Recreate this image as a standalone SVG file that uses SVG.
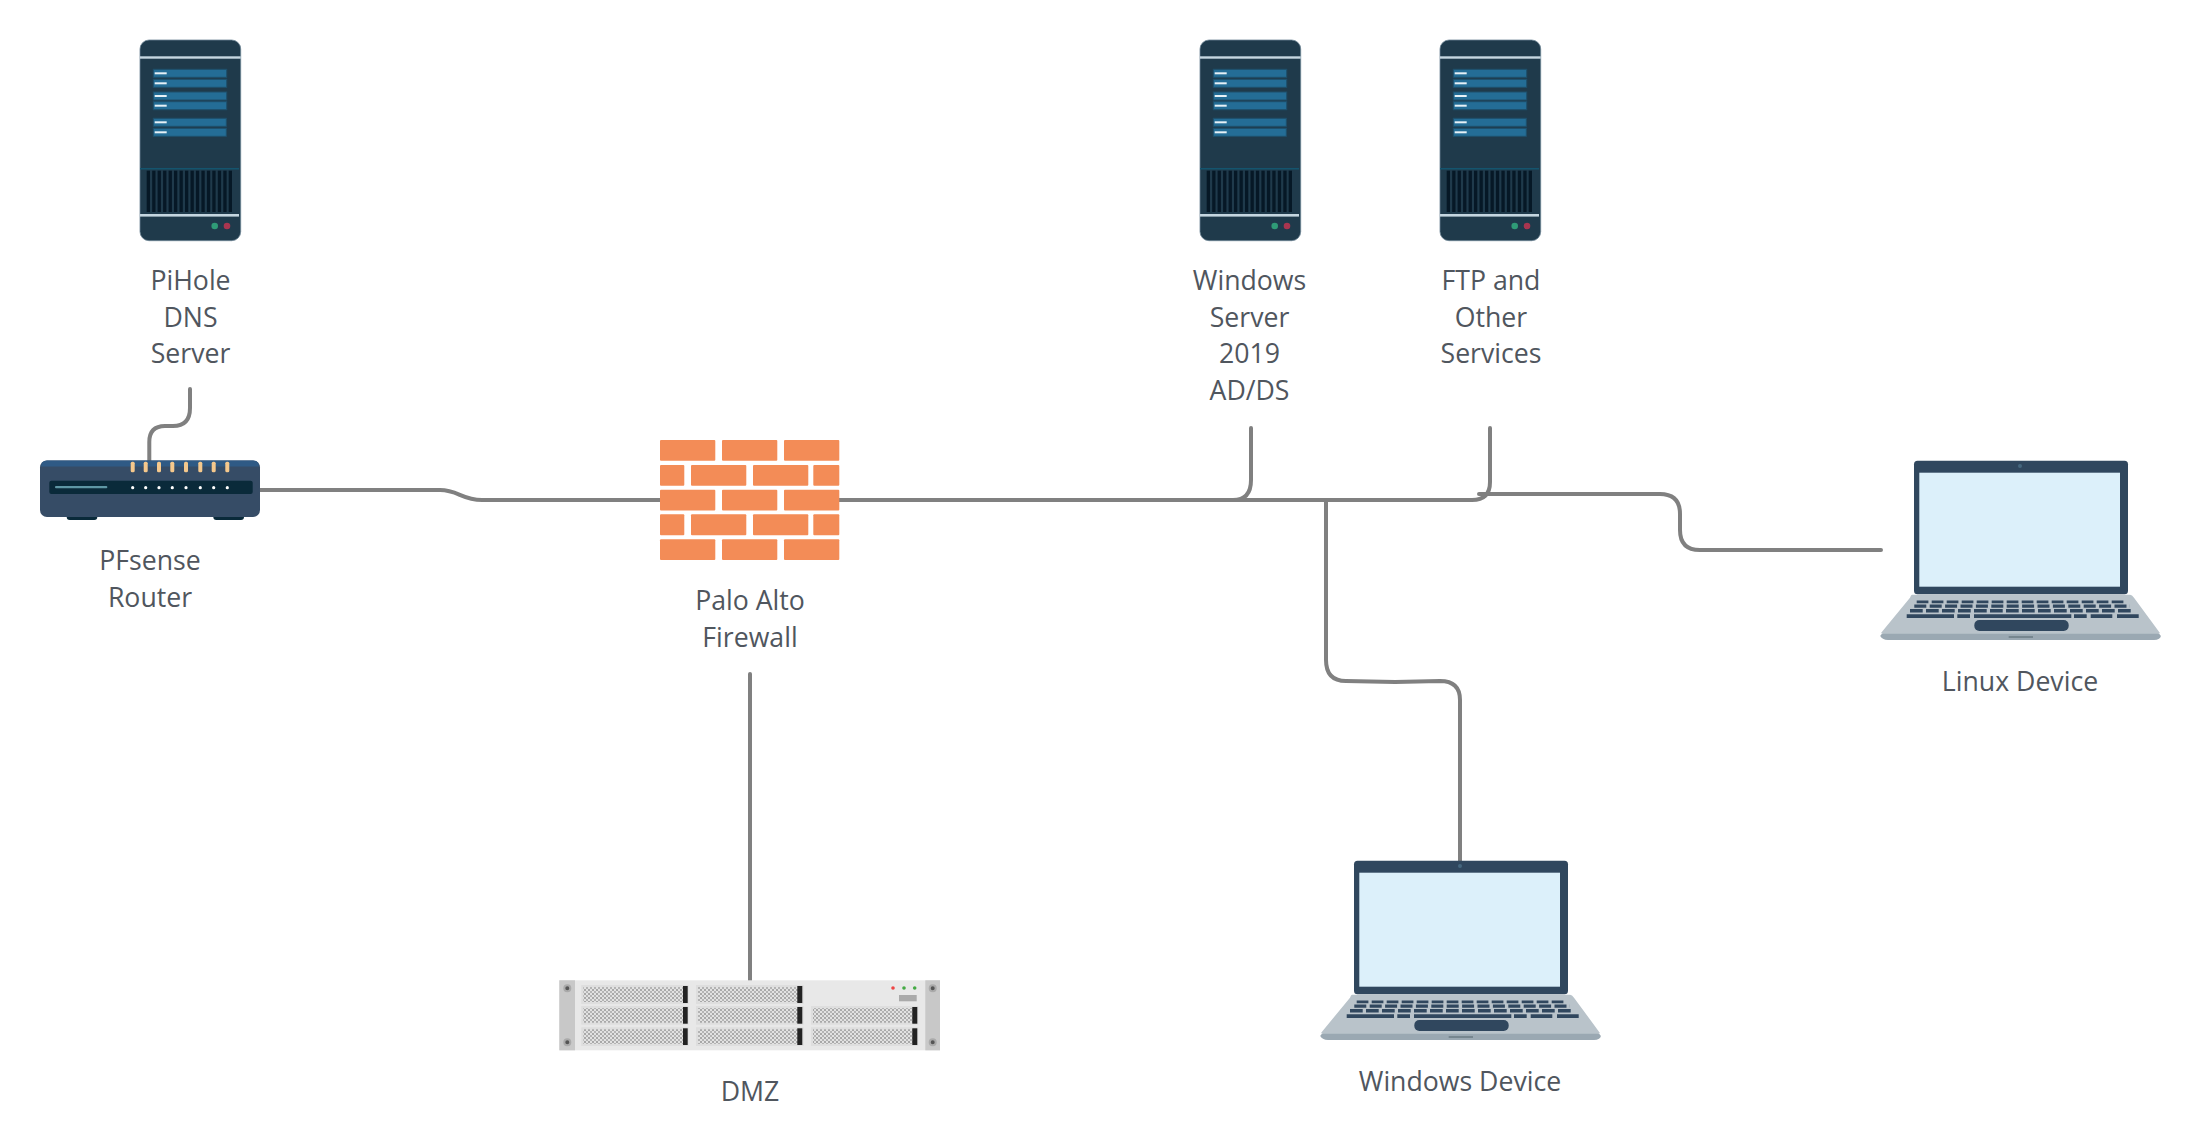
<svg xmlns="http://www.w3.org/2000/svg" width="2200" height="1146" viewBox="0 0 2200 1146">
<style>
.lbl{font-family:"Open Sans","Noto Sans",sans-serif;font-size:26.67px;fill:#50565e;text-anchor:middle}
.wire{fill:none;stroke:#808080;stroke-width:4;stroke-linecap:round}
.brick{fill:#f38c57}
.row{fill:#246d96;stroke:#1f4f6b;stroke-width:1}
.tab{fill:#e6f1f7}
.bar{fill:#061826}
.port{fill:#f5c88c}
.led{fill:#fff}
.key{fill:none;stroke:#30475e}
.bay{fill:url(#dots);stroke:#dedede;stroke-width:2}
.handle{fill:#222}
.screw{fill:#555;stroke:#aaa;stroke-width:2}
</style>
<defs>
<pattern id="dots" width="4" height="4" patternUnits="userSpaceOnUse">
<rect width="4" height="4" fill="#e2e2e2"/><rect width="2" height="2" fill="#a8a8a8"/><rect x="2" y="2" width="2" height="2" fill="#b4b4b4"/>
</pattern>
<g id="server">
<rect x="0" y="0" width="100.7" height="200.7" rx="9" fill="#1f3a4b" stroke="#6c8494" stroke-width=".8"/>
<rect x="0" y="16.3" width="100.7" height="2.4" fill="#c5d6e0"/>
<rect class="row" x="13.3" y="29.3" width="73.4" height="8"/><rect class="row" x="13.3" y="39.3" width="73.4" height="8"/>
<rect class="row" x="13.3" y="52" width="73.4" height="8"/><rect class="row" x="13.3" y="61.7" width="73.4" height="8"/>
<rect class="row" x="13.3" y="78.3" width="73" height="8"/><rect class="row" x="13.3" y="88.3" width="73" height="8"/>
<rect class="tab" x="14.7" y="32.3" width="12" height="2"/><rect class="tab" x="14.7" y="42.3" width="12" height="2"/>
<rect class="tab" x="14.7" y="55" width="12" height="2"/><rect class="tab" x="14.7" y="64.7" width="12" height="2"/>
<rect class="tab" x="14.7" y="81.3" width="12" height="2"/><rect class="tab" x="14.7" y="91.3" width="12" height="2"/>
<rect x="0" y="128" width="99" height="1.5" fill="#14546e"/>
<g class="bar">
<rect x="6.7" y="130.7" width="3.3" height="41.3"/><rect x="12.2" y="130.7" width="3.3" height="41.3"/><rect x="17.6" y="130.7" width="3.3" height="41.3"/><rect x="23.1" y="130.7" width="3.3" height="41.3"/>
<rect x="28.6" y="130.7" width="3.3" height="41.3"/><rect x="34" y="130.7" width="3.3" height="41.3"/><rect x="39.5" y="130.7" width="3.3" height="41.3"/><rect x="45" y="130.7" width="3.3" height="41.3"/>
<rect x="50.5" y="130.7" width="3.3" height="41.3"/><rect x="55.9" y="130.7" width="3.3" height="41.3"/><rect x="61.4" y="130.7" width="3.3" height="41.3"/><rect x="66.9" y="130.7" width="3.3" height="41.3"/>
<rect x="72.3" y="130.7" width="3.3" height="41.3"/><rect x="77.8" y="130.7" width="3.3" height="41.3"/><rect x="83.3" y="130.7" width="3.3" height="41.3"/><rect x="88.7" y="130.7" width="3.3" height="41.3"/>
</g>
<rect x="0" y="174" width="99" height="2.6" fill="#c5d6e0"/>
<circle cx="74.7" cy="186" r="3.3" fill="#2f9b77"/><circle cx="87" cy="186" r="3.3" fill="#a9354f"/>
</g>
<g id="laptop">
<path d="M-30.700 172 L-33 174 Q-35 176 -31 178 Q-29 179.300 -26 179.300 H240 Q243 179.300 245 178 Q248 176 246 174 L244 172 Z" fill="#9aa8b2"/>
<path d="M-2 134 H216 Q218 134 220 137 L245 171 Q247 173 244 173 H-31 Q-34 173 -32 171 L-4 137 Q-3 134 -2 134Z" fill="#b9c3ca"/>
<rect x="94.700" y="175.300" width="24.300" height="2" fill="#76868f"/>
<rect x="0" y="0" width="214" height="133.500" rx="3.500" fill="#30475e"/>
<rect x="5.300" y="12" width="200.700" height="114" fill="#dcf0fa"/>
<circle cx="106" cy="5.400" r="2" fill="#46677f"/>
<path class="key" stroke-width="2.800" stroke-dasharray="11.700 3.300" d="M2.700 141.200 H212.700"/>
<path class="key" stroke-width="3.100" stroke-dasharray="12 3.400" d="M0.300 145.400 H216"/>
<path class="key" stroke-width="3.400" stroke-dasharray="12.700 3.300" d="M-4 150 H220"/>
<path class="key" stroke-width="3.600" d="M-7.300 155.400 H40 M43.300 155.400 H56 M60 155.400 H157.300 M160 155.400 H172.700 M176.700 155.400 H198.300 M203 155.400 H224.700"/>
<rect x="60.300" y="159.300" width="94.400" height="11" rx="5" fill="#30475e"/>
</g>
</defs>
<g id="connectors" class="wire">
<path d="M149.300 461 V442 Q149.300 426 165 426 H173 Q190 426 190 408 V389"/>
<path d="M258 490 H440 C458 490 462 500 482 500 H662"/>
<path d="M838 500 H1233 Q1251 500 1251 480 V428"/>
<path d="M1200 500 H1472 Q1490 500 1490 482 V428"/>
<path d="M1326 500 V660 Q1326 681 1346 681 L1395 682 L1440 681 Q1460 681 1460 700 V861"/>
<path d="M1479 494 H1660 Q1680 494 1680 514 V530 Q1680 550 1700 550 H1881"/>
<path d="M750 674 V981"/>
</g>
<g id="pihole"><use href="#server" x="140" y="40"/><text class="lbl" x="190.500" y="289.500">PiHole</text><text class="lbl" x="190.500" y="326.500">DNS</text><text class="lbl" x="190.500" y="362.500">Server</text></g>
<g id="winserver"><use href="#server" x="1200" y="40"/><text class="lbl" x="1249.500" y="289.500">Windows</text><text class="lbl" x="1249.500" y="326.500">Server</text><text class="lbl" x="1249.500" y="362.500">2019</text><text class="lbl" x="1249.500" y="399.500">AD/DS</text></g>
<g id="ftp"><use href="#server" x="1440" y="40"/><text class="lbl" x="1491" y="289.500">FTP and</text><text class="lbl" x="1491" y="326.500">Other</text><text class="lbl" x="1491" y="362.500">Services</text></g>
<g id="router">
<rect x="66.700" y="512" width="30.600" height="8" rx="3" fill="#0a2a3a"/><rect x="213.300" y="512" width="30.700" height="8" rx="3" fill="#0a2a3a"/>
<rect x="40" y="460.500" width="220" height="56.500" rx="7" fill="#364c66"/>
<path d="M41 466.500 Q41 460.500 47 460.500 H253 Q259 460.500 259 466.500Z" fill="#2f5a85"/>
<rect x="49.300" y="480.700" width="203.400" height="13.300" rx="2" fill="#0a2a3a"/>
<rect x="55" y="486" width="52.300" height="2.300" rx="1" fill="#5f97a5"/>
<g class="port"><rect x="130.700" y="461.700" width="4" height="10.600" rx="1.500"/><rect x="143.700" y="461.700" width="4" height="10.600" rx="1.500"/><rect x="157" y="461.700" width="4" height="10.600" rx="1.500"/><rect x="170.300" y="461.700" width="4" height="10.600" rx="1.500"/><rect x="184" y="461.700" width="4" height="10.600" rx="1.500"/><rect x="198.300" y="461.700" width="4" height="10.600" rx="1.500"/><rect x="211.700" y="461.700" width="4" height="10.600" rx="1.500"/><rect x="225.300" y="461.700" width="4" height="10.600" rx="1.500"/></g>
<g class="led"><circle cx="132.700" cy="487.700" r="1.600"/><circle cx="145.700" cy="487.700" r="1.600"/><circle cx="159" cy="487.700" r="1.600"/><circle cx="172.300" cy="487.700" r="1.600"/><circle cx="186" cy="487.700" r="1.600"/><circle cx="200.300" cy="487.700" r="1.600"/><circle cx="213.700" cy="487.700" r="1.600"/><circle cx="227.300" cy="487.700" r="1.600"/></g>
<text class="lbl" x="150" y="570.300">PFsense</text><text class="lbl" x="150" y="607.300">Router</text>
</g>
<g id="firewall">
<g class="brick">
<rect x="660" y="440" width="55.300" height="20.700" rx="1"/><rect x="722" y="440" width="55.300" height="20.700" rx="1"/><rect x="784" y="440" width="55.300" height="20.700" rx="1"/>
<rect x="660" y="465" width="24.300" height="20.700" rx="1"/><rect x="691" y="465" width="55.300" height="20.700" rx="1"/><rect x="753" y="465" width="55.300" height="20.700" rx="1"/><rect x="813.300" y="465" width="26" height="20.700" rx="1"/>
<rect x="660" y="489.700" width="55.300" height="20.700" rx="1"/><rect x="722" y="489.700" width="55.300" height="20.700" rx="1"/><rect x="784" y="489.700" width="55.300" height="20.700" rx="1"/>
<rect x="660" y="514.300" width="24.300" height="21" rx="1"/><rect x="691" y="514.300" width="55.300" height="21" rx="1"/><rect x="753" y="514.300" width="55.300" height="21" rx="1"/><rect x="813.300" y="514.300" width="26" height="21" rx="1"/>
<rect x="660" y="539.300" width="55.300" height="20.700" rx="1"/><rect x="722" y="539.300" width="55.300" height="20.700" rx="1"/><rect x="784" y="539.300" width="55.300" height="20.700" rx="1"/>
</g>
<text class="lbl" x="750" y="610.300">Palo Alto</text><text class="lbl" x="750" y="647.300">Firewall</text>
</g>
<g id="dmz" transform="translate(0,1)">
<rect x="559.300" y="979.300" width="380.700" height="70" fill="#e8e8e8"/>
<rect x="559.300" y="979.300" width="15.700" height="70" fill="#c8c8c8"/><rect x="925.300" y="979.300" width="14.700" height="70" fill="#c8c8c8"/>
<circle class="screw" cx="567.300" cy="987.300" r="3"/><circle class="screw" cx="567.300" cy="1041.300" r="3"/><circle class="screw" cx="932.700" cy="987.300" r="3"/><circle class="screw" cx="932.700" cy="1041.300" r="3"/>
<rect class="bay" x="582.300" y="985" width="105.400" height="17"/><rect class="bay" x="697" y="985" width="105.700" height="17"/>
<rect class="bay" x="582.300" y="1006" width="105.400" height="16.700"/><rect class="bay" x="697" y="1006" width="105.700" height="16.700"/><rect class="bay" x="812" y="1006" width="105.300" height="16.700"/>
<rect class="bay" x="582.300" y="1027.300" width="105.400" height="16.700"/><rect class="bay" x="697" y="1027.300" width="105.700" height="16.700"/><rect class="bay" x="812" y="1027.300" width="105.300" height="16.700"/>
<g class="handle"><rect x="683" y="985" width="4.700" height="17"/><rect x="797.300" y="985" width="5" height="17"/><rect x="683" y="1006" width="4.700" height="16.700"/><rect x="797.300" y="1006" width="5" height="16.700"/><rect x="912.300" y="1006" width="5" height="16.700"/><rect x="683" y="1027.300" width="4.700" height="16.700"/><rect x="797.300" y="1027.300" width="5" height="16.700"/><rect x="912.300" y="1027.300" width="5" height="16.700"/></g>
<circle cx="893" cy="987" r="1.800" fill="#e44"/><circle cx="904" cy="987" r="1.800" fill="#4a4"/><circle cx="914.700" cy="987" r="1.800" fill="#4a4"/>
<rect x="899" y="994" width="17.700" height="6.300" fill="#aaa"/>
<text class="lbl" x="750" y="1099.500">DMZ</text>
</g>
<g id="windows-device"><use href="#laptop" x="1354" y="860.700"/><text class="lbl" x="1460" y="1090.500">Windows Device</text></g>
<g id="linux-device"><use href="#laptop" x="1914" y="460.700"/><text class="lbl" x="2020" y="690.500">Linux Device</text></g>
</svg>
